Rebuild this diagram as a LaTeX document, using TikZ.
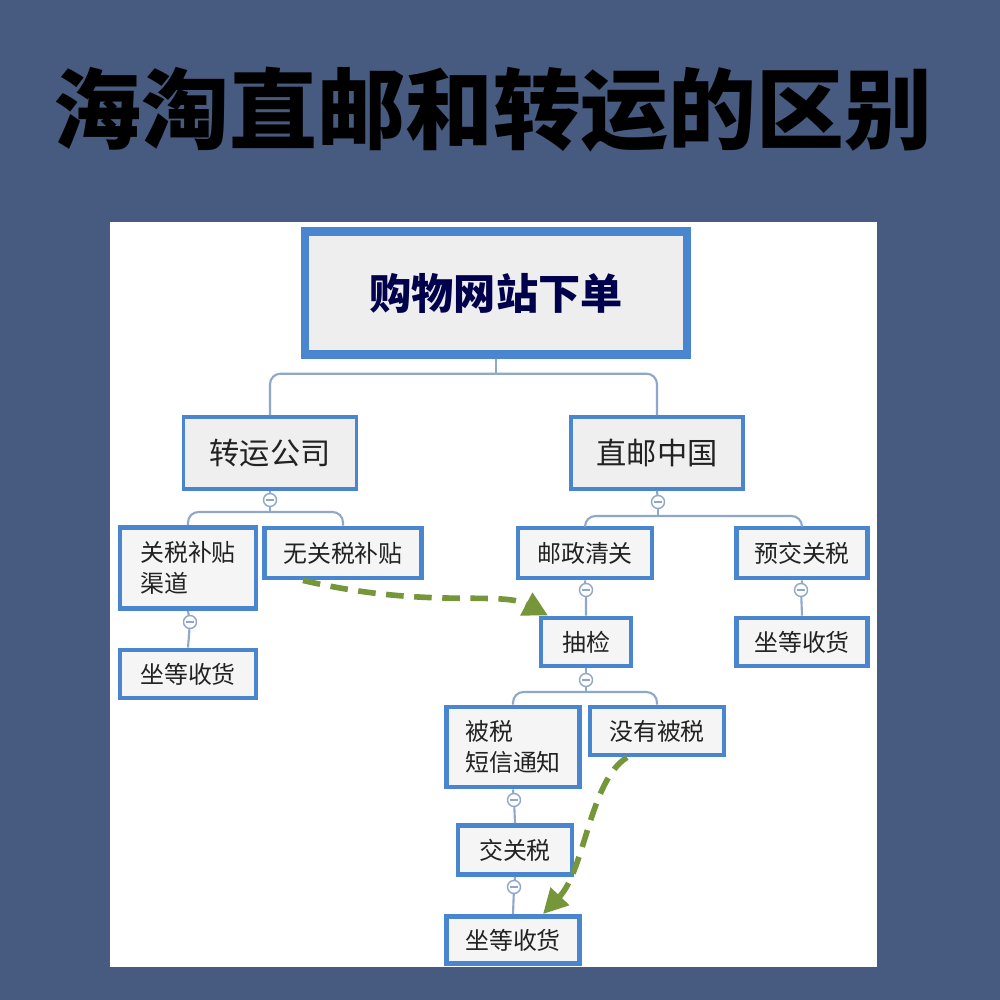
\documentclass[tikz,border=0pt]{standalone}
\usepackage{fontspec}
\setmainfont{Noto Sans CJK SC}
\usetikzlibrary{positioning,calc,arrows.meta}
\definecolor{bgblue}{HTML}{475A7F}
\definecolor{boxline}{HTML}{4A86D0}
\definecolor{linec}{HTML}{8FA7C8}
\definecolor{arrowgreen}{HTML}{76963A}
\definecolor{txt}{HTML}{222222}

\begin{document}
\begin{tikzpicture}[
    box/.style={draw=boxline, line width=1.4pt, fill=gray!8, rectangle, inner sep=2pt, font=\fontsize{6.8}{9}\selectfont, text=txt},
    midbox/.style={box, fill=blue!4!gray!12, font=\fontsize{8.6}{10}\selectfont, line width=1pt},
    rootbox/.style={box, line width=2.4pt, fill=blue!5!gray!13, font=\fontsize{12}{14}\selectfont\bfseries, text=black!70!blue},
    collapse/.style={circle, draw=linec, fill=white, inner sep=0pt, minimum size=0.13cm,
        path picture={\draw[linec, line width=0.4pt] ([xshift=-0.04cm]path picture bounding box.center) -- ([xshift=0.04cm]path picture bounding box.center);}},
    link/.style={draw=linec, line width=0.6pt, rounded corners=3pt},
    jump/.style={draw=arrowgreen, line width=1.6pt, dash pattern=on 5pt off 3pt, -{Triangle[length=7pt,width=7pt]}}
]
    \useasboundingbox (0,0) rectangle (10,10);
    \fill[bgblue] (0,0) rectangle (10,10);
    \node[font=\fontsize{25}{28}\selectfont\bfseries, text=black] (title) at (4.93,8.9) {海淘直邮和转运的区别};
    \fill[white] (1.10,0.33) rectangle (8.77,7.78);

    % Top level
    \node[rootbox, minimum width=3.82cm, minimum height=1.23cm] (root) at (4.96,7.07) {购物网站下单};
    \node[midbox, minimum width=1.73cm, minimum height=0.72cm] (zhuanyun) at (2.70,5.47) {转运公司};
    \node[midbox, minimum width=1.72cm, minimum height=0.72cm] (zhiyou) at (6.57,5.47) {直邮中国};

    % Transfer branch
    \node[box, minimum width=1.36cm, minimum height=0.81cm, align=left] (butie) at (1.88,4.32) {关税补贴\\渠道};
    \node[box, minimum width=1.57cm, minimum height=0.50cm] (wubutie) at (3.43,4.47) {无关税补贴};
    \node[box, minimum width=1.36cm, minimum height=0.48cm] (shouhuoA) at (1.88,3.26) {坐等收货};

    % Direct branch
    \node[box, minimum width=1.34cm, minimum height=0.50cm] (youzheng) at (5.85,4.47) {邮政清关};
    \node[box, minimum width=1.31cm, minimum height=0.50cm] (yujiao) at (8.02,4.47) {预交关税};
    \node[box, minimum width=0.90cm, minimum height=0.48cm] (choujian) at (5.86,3.58) {抽检};
    \node[box, minimum width=1.31cm, minimum height=0.48cm] (shouhuoB) at (8.02,3.58) {坐等收货};
    \node[box, minimum width=1.33cm, minimum height=0.80cm, align=left] (beishui) at (5.13,2.53) {被税\\短信通知};
    \node[box, minimum width=1.34cm, minimum height=0.48cm] (meiyou) at (6.57,2.69) {没有被税};
    \node[box, minimum width=1.14cm, minimum height=0.49cm] (jiaoshui) at (5.15,1.50) {交关税};
    \node[box, minimum width=1.33cm, minimum height=0.47cm] (shouhuoC) at (5.13,0.60) {坐等收货};

    % Collapse marks
    \node[collapse] (cZy) at (2.70,5.00) {};
    \node[collapse] (cZc) at (6.58,4.98) {};
    \node[collapse] (cBt) at (1.90,3.78) {};
    \node[collapse] (cYz) at (5.86,4.10) {};
    \node[collapse] (cYj) at (8.01,4.10) {};
    \node[collapse] (cCj) at (5.86,3.20) {};
    \node[collapse] (cBs) at (5.14,2.00) {};
    \node[collapse] (cJs) at (5.14,1.13) {};

    % Tree links
    \draw[link] (root.south) -- ++(0,-0.15);
    \draw[link] (zhuanyun.north) |- ($(root.south)+(0,-0.15)$) -| (zhiyou.north);
    \draw[link] (zhuanyun.south) -- (cZy);
    \draw[link] (zhiyou.south) -- (cZc);
    \draw[link] (cZy) -- ++(0,-0.12);
    \draw[link] (butie.north) |- ($(cZy)+(0,-0.12)$) -| (wubutie.north);
    \draw[link] (cZc) -- ++(0,-0.14);
    \draw[link] (youzheng.north) |- ($(cZc)+(0,-0.14)$) -| (yujiao.north);
    \draw[link] (butie.south) -- (cBt) -- (shouhuoA.north);
    \draw[link] (youzheng.south) -- (cYz) -- (choujian.north);
    \draw[link] (yujiao.south) -- (cYj) -- (shouhuoB.north);
    \draw[link] (choujian.south) -- (cCj) -- ++(0,-0.12);
    \draw[link] (beishui.north) |- ($(cCj)+(0,-0.12)$) -| (meiyou.north);
    \draw[link] (beishui.south) -- (cBs) -- (jiaoshui.north);
    \draw[link] (jiaoshui.south) -- (cJs) -- (shouhuoC.north);

    % Dashed jumps
    \draw[jump] ([xshift=-0.4cm]wubutie.south) .. controls (4.3,3.9) and (5.0,4.1) .. ([xshift=-0.38cm]choujian.north);
    \draw[jump] ([xshift=-0.3cm]meiyou.south) .. controls (5.9,2.2) and (5.85,1.3) .. ([xshift=0.3cm]shouhuoC.north);
\end{tikzpicture}
\end{document}
